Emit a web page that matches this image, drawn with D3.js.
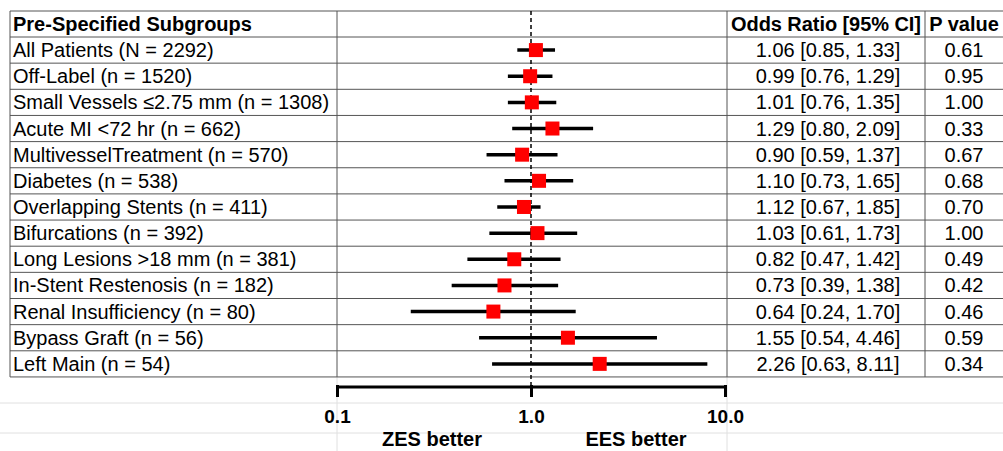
<!DOCTYPE html>
<html><head><meta charset="utf-8">
<script src="https://cdn.jsdelivr.net/npm/d3@7"></script>
<style>body{margin:0;background:#fff}text{font-family:"Liberation Sans",Arial,sans-serif}</style>
</head><body><svg id="chart" width="1003" height="451"></svg>
<script>
// data
const groups = ["All Patients (N = 2292)","Off-Label (n = 1520)","Small Vessels \u22642.75 mm (n = 1308)","Acute MI <72 hr (n = 662)","MultivesselTreatment (n = 570)","Diabetes (n = 538)","Overlapping Stents (n = 411)","Bifurcations (n = 392)","Long Lesions >18 mm (n = 381)","In-Stent Restenosis (n = 182)","Renal Insufficiency (n = 80)","Bypass Graft (n = 56)","Left Main (n = 54)"];
const orLabels = ["1.06 [0.85, 1.33]","0.99 [0.76, 1.29]","1.01 [0.76, 1.35]","1.29 [0.80, 2.09]","0.90 [0.59, 1.37]","1.10 [0.73, 1.65]","1.12 [0.67, 1.85]","1.03 [0.61, 1.73]","0.82 [0.47, 1.42]","0.73 [0.39, 1.38]","0.64 [0.24, 1.70]","1.55 [0.54, 4.46]","2.26 [0.63, 8.11]"];
const pValues = ["0.61","0.95","1.00","0.33","0.67","0.68","0.70","1.00","0.49","0.42","0.46","0.59","0.34"];
// plotted points as drawn in the figure
const est = [1.06,0.99,1.01,1.29,0.90,1.10,0.92,1.08,0.82,0.73,0.64,1.55,2.26];
const lo  = [0.85,0.76,0.76,0.80,0.59,0.73,0.67,0.61,0.47,0.39,0.24,0.54,0.63];
const hi  = [1.33,1.29,1.35,2.09,1.37,1.65,1.12,1.73,1.42,1.38,1.70,4.46,8.11];
const tickVals = [0.1,1,10];
const tickLabels = ["0.1","1.0","10.0"];

const svg = d3.select("#chart");
const colX = [10,337,727,925,1003];
const tableTop = 11, headH = 26, rowH = 26.15;
const y = d3.scaleBand().domain(d3.range(groups.length)).range([tableTop+headH, tableTop+headH+rowH*groups.length]);
const x = d3.scaleLog().domain([0.1,10]).range([337,725]);
const bottom = tableTop+headH+rowH*groups.length;
const fs = 20;

// faint grid below
const g0 = svg.append("g").attr("stroke","#e0e0e0");
[403,433].forEach(v=>g0.append("line").attr("x1",0).attr("x2",1003).attr("y1",v).attr("y2",v));
[337,727].forEach(v=>g0.append("line").attr("x1",v).attr("x2",v).attr("y1",bottom).attr("y2",451));

// table grid
const grid = svg.append("g").attr("stroke","#555").attr("stroke-width",1);
d3.range(groups.length+2).forEach(i=>{
  const yy = i===0 ? tableTop : tableTop+headH+rowH*(i-1);
  grid.append("line").attr("x1",colX[0]).attr("x2",1003).attr("y1",yy).attr("y2",yy);
});
colX.slice(0,4).forEach(v=>grid.append("line").attr("x1",v).attr("x2",v).attr("y1",tableTop).attr("y2",bottom));

// headers
const hy = tableTop+headH/2+7;
svg.append("text").attr("x",13).attr("y",hy).attr("font-size",fs).attr("font-weight","bold").text("Pre-Specified Subgroups");
svg.append("text").attr("x",826).attr("y",hy).attr("text-anchor","middle").attr("font-size",fs).attr("font-weight","bold").attr("textLength",190).text("Odds Ratio [95% CI]");
svg.append("text").attr("x",964).attr("y",hy).attr("text-anchor","middle").attr("font-size",fs).attr("font-weight","bold").text("P value");

// row texts
const rows = svg.append("g").attr("font-size",fs);
groups.forEach((g,i)=>{
  const cy = y(i)+y.bandwidth()/2+7;
  rows.append("text").attr("x",13).attr("y",cy).text(g);
  rows.append("text").attr("x",828).attr("y",cy).attr("text-anchor","middle").text(orLabels[i]);
  rows.append("text").attr("x",964).attr("y",cy).attr("text-anchor","middle").text(pValues[i]);
});

// reference line
svg.append("line").attr("x1",x(1)).attr("x2",x(1)).attr("y1",tableTop).attr("y2",387)
  .attr("stroke","#000").attr("stroke-width",1.5).attr("stroke-dasharray","4,3");

// CIs and markers
const m = svg.append("g");
groups.forEach((g,i)=>{
  const cy = y(i)+y.bandwidth()/2;
  m.append("line").attr("x1",x(lo[i])).attr("x2",x(hi[i])).attr("y1",cy).attr("y2",cy).attr("stroke","#000").attr("stroke-width",3.5);
  m.append("rect").attr("x",x(est[i])-7).attr("y",cy-7).attr("width",14).attr("height",14).attr("fill","#ff0000");
});

// axis
const ax = svg.append("g").attr("transform","translate(0,387)")
  .call(d3.axisBottom(x).tickValues(tickVals).tickFormat((d,i)=>tickLabels[i]).tickSize(10).tickSizeOuter(0));
ax.select(".domain").attr("stroke-width",3).attr("d",`M${x(0.1)},0H${x(10)}`);
ax.selectAll(".tick line").attr("stroke-width",3).attr("y1",-2);
ax.selectAll(".tick text").attr("y",23).attr("font-size",19).attr("font-weight","bold").attr("font-family","Liberation Sans, Arial, sans-serif");
svg.append("text").attr("x",432).attr("y",446).attr("text-anchor","middle").attr("font-size",20).attr("font-weight","bold").text("ZES better");
svg.append("text").attr("x",636).attr("y",446).attr("text-anchor","middle").attr("font-size",20).attr("font-weight","bold").text("EES better");
</script></body></html>
